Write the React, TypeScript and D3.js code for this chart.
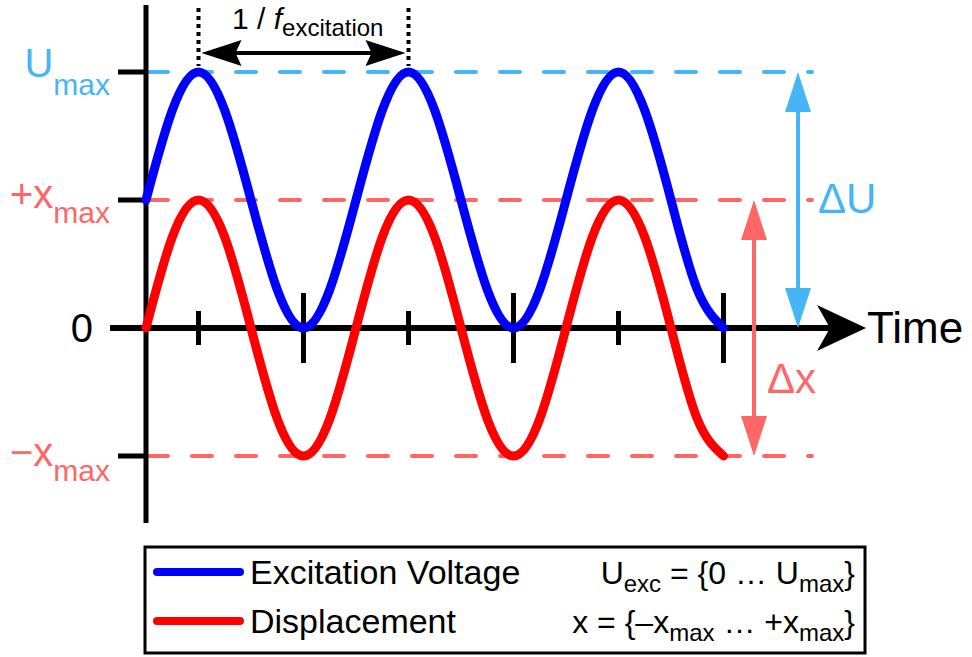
import React from "react";
import * as d3 from "d3";

// time in periods of the excitation (1 / f_excitation), read every eighth period
const timePeriods = [
  0, 0.125, 0.25, 0.375, 0.5, 0.625, 0.75, 0.875,
  1, 1.125, 1.25, 1.375, 1.5, 1.625, 1.75, 1.875,
  2, 2.125, 2.25, 2.375, 2.5, 2.625, 2.75,
];
// excitation voltage in units of U_max
const voltage = [
  0.5, 0.85, 1, 0.85, 0.5, 0.15, 0, 0.15,
  0.5, 0.85, 1, 0.85, 0.5, 0.15, 0, 0.15,
  0.5, 0.85, 1, 0.85, 0.5, 0.15, 0,
];
// displacement in units of x_max
const displacement = [
  0, 0.71, 1, 0.71, 0, -0.71, -1, -0.71,
  0, 0.71, 1, 0.71, 0, -0.71, -1, -0.71,
  0, 0.71, 1, 0.71, 0, -0.71, -1,
];

const minorTicks = [0.25, 1.25, 2.25];
const majorTicks = [0.75, 1.75, 2.75];

const BLUE = "#0000FF";
const RED = "#FF0000";
const LIGHT_BLUE = "#45B5F5";
const LIGHT_RED = "#FF6666";
const FONT = "'Liberation Sans', Arial, sans-serif";

const x = d3.scaleLinear([0, 2.75], [146, 723.5]);
const yU = d3.scaleLinear([0, 1], [328, 72]);
const yX = d3.scaleLinear([-1, 1], [456, 200]);

const arrowHead = (tx: number, ty: number, dir: "up" | "down" | "left" | "right", len = 40, half = 13, notch = 0) => {
  if (dir === "up") return `M${tx},${ty} L${tx - half},${ty + len} L${tx},${ty + len - notch} L${tx + half},${ty + len} Z`;
  if (dir === "down") return `M${tx},${ty} L${tx - half},${ty - len} L${tx},${ty - len + notch} L${tx + half},${ty - len} Z`;
  if (dir === "left") return `M${tx},${ty} L${tx + len},${ty - half} L${tx + len - notch},${ty} L${tx + len},${ty + half} Z`;
  return `M${tx},${ty} L${tx - len},${ty - half} L${tx - len + notch},${ty} L${tx - len},${ty + half} Z`;
};

const App: React.FC = () => {
  const voltageLine = d3.line<number>()
    .x((_, i) => x(timePeriods[i]))
    .y(v => yU(v))
    .curve(d3.curveNatural);
  const dispLine = d3.line<number>()
    .x((_, i) => x(timePeriods[i]))
    .y(v => yX(v))
    .curve(d3.curveNatural);

  const x0 = x(0);
  const y0 = yU(0);
  const pA = x(0.25);
  const pB = x(1.25);

  const levels = [
    { y: yU(1), color: LIGHT_BLUE },
    { y: yX(1), color: LIGHT_RED },
    { y: yX(-1), color: LIGHT_RED },
  ];

  return (
    <svg width={972} height={657} style={{ position: "absolute", left: 0, top: 0, background: "#fff" }} fontFamily={FONT}>
      {/* dashed reference levels */}
      {levels.map((l, i) => (
        <line key={i} x1={x0 + 2} x2={812} y1={l.y} y2={l.y} stroke={l.color} strokeWidth={4}
          strokeDasharray="20 24" strokeLinecap="round" />
      ))}

      {/* axes */}
      <line x1={x0} x2={x0} y1={5} y2={523} stroke="#000" strokeWidth={5} />
      {[yU(1), yX(1), yX(-1)].map((ty, i) => (
        <line key={i} x1={118} x2={x0} y1={ty} y2={ty} stroke="#000" strokeWidth={5} />
      ))}
      <line x1={110} x2={832} y1={y0} y2={y0} stroke="#000" strokeWidth={6} />
      <path d={arrowHead(866, y0, "right", 49, 23, 13)} fill="#000" />
      {minorTicks.map(t => (
        <line key={"m" + t} x1={x(t)} x2={x(t)} y1={y0 - 17} y2={y0 + 17} stroke="#000" strokeWidth={5} />
      ))}
      {majorTicks.map(t => (
        <line key={"M" + t} x1={x(t)} x2={x(t)} y1={y0 - 35} y2={y0 + 35} stroke="#000" strokeWidth={5} />
      ))}

      {/* curves */}
      <path d={voltageLine(voltage) ?? ""} fill="none" stroke={BLUE} strokeWidth={9} strokeLinecap="round" />
      <path d={dispLine(displacement) ?? ""} fill="none" stroke={RED} strokeWidth={9} strokeLinecap="round" />

      {/* period marker */}
      <line x1={pA} x2={pA} y1={8} y2={66} stroke="#000" strokeWidth={4} strokeDasharray="4 4" />
      <line x1={pB} x2={pB} y1={8} y2={66} stroke="#000" strokeWidth={4} strokeDasharray="4 4" />
      <line x1={pA + 30} x2={pB - 30} y1={53} y2={53} stroke="#000" strokeWidth={4} />
      <path d={arrowHead(pA + 3, 53, "left", 40, 13, 6)} fill="#000" />
      <path d={arrowHead(pB - 3, 53, "right", 40, 13, 6)} fill="#000" />
      <text x={232} y={29} fontSize={30} fill="#000">
        1 / <tspan fontStyle="italic">f</tspan>
        <tspan fontSize={24} dy={7}>excitation</tspan>
      </text>

      {/* delta arrows */}
      <line x1={798} x2={798} y1={yU(1) + 30} y2={y0 - 30} stroke={LIGHT_BLUE} strokeWidth={4} />
      <path d={arrowHead(798, yU(1), "up")} fill={LIGHT_BLUE} />
      <path d={arrowHead(798, y0, "down")} fill={LIGHT_BLUE} />
      <line x1={754} x2={754} y1={yX(1) + 30} y2={yX(-1) - 30} stroke={LIGHT_RED} strokeWidth={4} />
      <path d={arrowHead(754, yX(1), "up")} fill={LIGHT_RED} />
      <path d={arrowHead(754, yX(-1), "down")} fill={LIGHT_RED} />
      <text x={818} y={213} fontSize={42} fill={LIGHT_BLUE}>ΔU</text>
      <text x={767} y={393} fontSize={42} fill={LIGHT_RED}>Δx</text>

      {/* axis labels */}
      <text x={110} y={yU(1) + 5} fontSize={40} fill={LIGHT_BLUE} textAnchor="end">
        U<tspan fontSize={30} dy={18}>max</tspan>
      </text>
      <text x={110} y={yX(1) + 8} fontSize={40} fill={LIGHT_RED} textAnchor="end">
        +x<tspan fontSize={30} dy={15}>max</tspan>
      </text>
      <text x={93} y={y0 + 14} fontSize={40} fill="#000" textAnchor="end">0</text>
      <text x={110} y={yX(-1) + 10} fontSize={40} fill={LIGHT_RED} textAnchor="end">
        −x<tspan fontSize={30} dy={15}>max</tspan>
      </text>
      <text x={867} y={343} fontSize={44} fill="#000">Time</text>

      {/* legend */}
      <rect x={145} y={547} width={720} height={106} fill="none" stroke="#000" strokeWidth={3} />
      <line x1={157} x2={240} y1={572} y2={572} stroke={BLUE} strokeWidth={8} strokeLinecap="round" />
      <line x1={157} x2={240} y1={621} y2={621} stroke={RED} strokeWidth={8} strokeLinecap="round" />
      <text x={250} y={584} fontSize={34} fill="#000">Excitation Voltage</text>
      <text x={250} y={633} fontSize={34} fill="#000">Displacement</text>
      <text x={855} y={584} fontSize={32} fill="#000" textAnchor="end">
        U<tspan fontSize={24} dy={8}>exc</tspan>
        <tspan dy={-8}> = {"{"}0 … U</tspan>
        <tspan fontSize={24} dy={8}>max</tspan>
        <tspan dy={-8}>{"}"}</tspan>
      </text>
      <text x={855} y={633} fontSize={32} fill="#000" textAnchor="end">
        x = {"{"}–x<tspan fontSize={24} dy={8}>max</tspan>
        <tspan dy={-8}> … +x</tspan>
        <tspan fontSize={24} dy={8}>max</tspan>
        <tspan dy={-8}>{"}"}</tspan>
      </text>
    </svg>
  );
};

export default App;
